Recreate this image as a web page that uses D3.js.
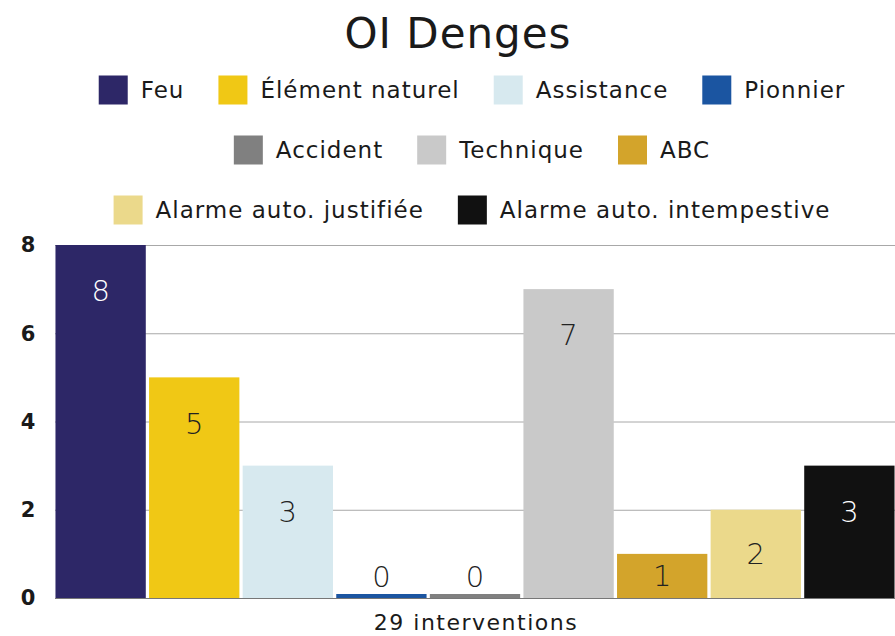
<!DOCTYPE html>
<meta charset="utf-8">
<style>
body { margin: 0; background: #fff; }
svg text { font-family: "DejaVu Sans", sans-serif; }
</style>
<body>
<svg id="chart" width="895" height="636"></svg>
<script src="https://d3js.org/d3.v7.min.js"></script>
<script>
// data
var categories = ["Feu", "Élément naturel", "Assistance", "Pionnier", "Accident",
                  "Technique", "ABC", "Alarme auto. justifiée", "Alarme auto. intempestive"]
var values = [8, 5, 3, 0, 0, 7, 1, 2, 3]
var colors = ["#2d2767", "#f0c815", "#d7e9ef", "#1b55a1", "#808080",
              "#c9c9c9", "#d3a42b", "#ebd98b", "#111111"]
var legendRows = [[0, 1, 2, 3], [4, 5, 6], [7, 8]]
var yTicks = [0, 2, 4, 6, 8]
var title = "OI Denges"
var footer = "29 interventions"

var width = 895, height = 636
var margin = {top: 245, right: 0, bottom: 38, left: 55}

var svg = d3.select("#chart")

var x = d3.scaleBand()
    .domain(categories)
    .range([margin.left, width - margin.right])
    .paddingInner(0.035)
    .paddingOuter(0.005)

var y = d3.scaleLinear()
    .domain([0, 8])
    .range([height - margin.bottom, margin.top])

// title
svg.append("text")
    .attr("x", 458).attr("y", 33)
    .attr("dy", "0.35em")
    .attr("text-anchor", "middle")
    .style("font-size", "42px")
    .style("letter-spacing", "1px")
    .style("fill", "#1a1a1a")
    .text(title)

// legend, centred row by row
var rowY = [90, 150, 210]
var sw = 29, gapText = 13, gapItem = 34
legendRows.forEach(function(row, r) {
  var g = svg.append("g")
  var cx = 0
  row.forEach(function(i) {
    g.append("rect")
      .attr("x", cx).attr("y", rowY[r] - sw / 2)
      .attr("width", sw).attr("height", sw)
      .attr("fill", colors[i])
    var t = g.append("text")
      .attr("x", cx + sw + gapText).attr("y", rowY[r])
      .attr("dy", "0.35em")
      .style("font-size", "23px")
      .style("letter-spacing", "1px")
      .style("fill", "#1a1a1a")
      .text(categories[i])
    cx += sw + gapText + t.node().getComputedTextLength() + gapItem
  })
  var w = cx - gapItem
  g.attr("transform", "translate(" + (472 - w / 2) + ",0)")
})

// grid
svg.append("g")
  .selectAll("line")
  .data(yTicks)
  .enter().append("line")
    .attr("x1", margin.left).attr("x2", width)
    .attr("y1", function(d) { return y(d) + 0.5 })
    .attr("y2", function(d) { return y(d) + 0.5 })
    .attr("stroke", function(d) { return d == 0 ? "#777" : "#a8a8a8" })
    .attr("stroke-width", 1)

// y labels
svg.append("g")
  .selectAll("text")
  .data(yTicks)
  .enter().append("text")
    .attr("x", 28).attr("y", function(d) { return y(d) })
    .attr("dy", "0.35em")
    .attr("text-anchor", "middle")
    .style("font-size", "21px")
    .style("font-weight", "600")
    .style("fill", "#1a1a1a")
    .text(function(d) { return d })

// bars (zero values still get a thin strip)
svg.append("g")
  .selectAll("rect")
  .data(values)
  .enter().append("rect")
    .attr("x", function(d, i) { return x(categories[i]) })
    .attr("width", x.bandwidth())
    .attr("y", function(d) { return d == 0 ? y(0) - 4 : y(d) })
    .attr("height", function(d) { return d == 0 ? 4 : y(0) - y(d) })
    .attr("fill", function(d, i) { return colors[i] })

// value labels
svg.append("g")
  .selectAll("text")
  .data(values)
  .enter().append("text")
    .attr("x", function(d, i) { return x(categories[i]) + x.bandwidth() / 2 })
    .attr("y", function(d) {
      if (d == 0) return y(0) - 21
      return Math.min(y(d) + 46, (y(d) + y(0)) / 2)
    })
    .attr("dy", "0.35em")
    .attr("text-anchor", "middle")
    .style("font-size", "29px")
    .style("font-weight", "200")
    .style("fill", function(d, i) { return (i == 0 || i == 8) ? "#fff" : "#222" })
    .text(function(d) { return d })

svg.append("text")
    .attr("x", 476).attr("y", 622)
    .attr("dy", "0.35em")
    .attr("text-anchor", "middle")
    .style("font-size", "22px")
    .style("letter-spacing", "1.5px")
    .style("fill", "#1a1a1a")
    .text(footer)
</script>
</body>
